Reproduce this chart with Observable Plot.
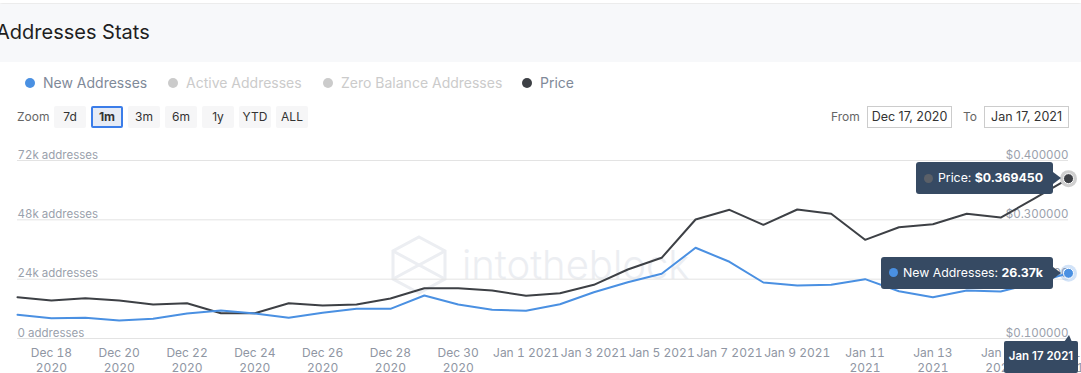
<!DOCTYPE html>
<html><head><meta charset="utf-8">
<script src="https://cdn.jsdelivr.net/npm/d3@7"></script>
<script src="https://cdn.jsdelivr.net/npm/@observablehq/plot@0.6"></script>
<style>
body{margin:0;width:1081px;height:373px;overflow:hidden;background:#fff;font-family:Inter,"Noto Sans",sans-serif;position:relative}
.abs{position:absolute}
#hdr{left:0;top:4px;width:1081px;height:58px;background:#f7f8fa}
#topbar{left:0;top:0;width:1081px;height:3px;background:#fff;box-shadow:0 1px 3px rgba(0,0,0,0.12)}
#title{left:-4px;top:20px;font-size:20px;color:#1f1f1f;white-space:nowrap}
.leg{top:74px;font-size:14px;white-space:nowrap;line-height:18px}
.leg .d{display:inline-block;width:10px;height:10px;border-radius:50%;margin-right:8px;vertical-align:-0px}
.btn{top:106px;height:22px;line-height:22px;width:32px;text-align:center;background:#f6f6f7;font-size:12px;color:#333;border-radius:2px;box-sizing:border-box}
.btn.sel{border:2px solid #3b7de9;background:#e6ebf5;font-weight:700;line-height:18px}
.lbl{top:108px;font-size:12px;color:#666;line-height:18px}
.inp{top:106px;height:22px;line-height:20px;border:1px solid #ccc;box-sizing:border-box;font-size:12.5px;color:#333;text-align:center;background:#fff}
#wm{left:462px;top:240px;font-size:40px;font-weight:300;color:#eceef2;letter-spacing:0px}
#chart{left:0;top:140px}
.tip{position:absolute;background:#364a63;color:#fff;font-size:12.3px;height:32px;line-height:32px;padding:0 10px 0 8px;border-radius:3px;white-space:nowrap;box-sizing:border-box}
.tip::after{content:"";position:absolute;right:-8px;top:10px;border-left:8px solid #364a63;border-top:6px solid transparent;border-bottom:6px solid transparent}
.tip .d{display:inline-block;width:9px;height:9px;border-radius:50%;margin-right:5px;vertical-align:-0.5px}
#dtip{position:absolute;background:#364a63;color:#fff;font-size:11.5px;font-weight:600;height:32px;line-height:30px;width:74px;text-align:center;border-radius:2px;white-space:nowrap}
#dtip::before{content:"";position:absolute;right:6px;top:-6px;border-bottom:7px solid #364a63;border-left:5px solid transparent;border-right:3px solid transparent}
</style></head><body>
<div id="topbar" class="abs"></div>
<div id="hdr" class="abs"></div>
<div id="title" class="abs">Addresses Stats</div>

<div class="abs leg" style="left:25px;color:#7f8a99"><span class="d" style="background:#4a90e2"></span>New Addresses</div>
<div class="abs leg" style="left:168px;color:#cbcbcb"><span class="d" style="background:#cbcbcb"></span>Active Addresses</div>
<div class="abs leg" style="left:323px;color:#cbcbcb"><span class="d" style="background:#cbcbcb"></span>Zero Balance Addresses</div>
<div class="abs leg" style="left:522px;color:#7f8a99"><span class="d" style="background:#3d4045"></span>Price</div>

<div class="abs lbl" style="left:17px">Zoom</div>
<div class="abs btn" style="left:54px">7d</div>
<div class="abs btn sel" style="left:91px">1m</div>
<div class="abs btn" style="left:128px">3m</div>
<div class="abs btn" style="left:165px">6m</div>
<div class="abs btn" style="left:202px">1y</div>
<div class="abs btn" style="left:239px">YTD</div>
<div class="abs btn" style="left:276px">ALL</div>

<div class="abs lbl" style="left:831px">From</div>
<div class="abs inp" style="left:867px;width:85px">Dec 17, 2020</div>
<div class="abs lbl" style="left:963px">To</div>
<div class="abs inp" style="left:984px;width:85px">Jan 17, 2021</div>

<svg class="abs" style="left:391px;top:235px" width="58" height="60">
  <g fill="none" stroke="#eceef2" stroke-width="3">
    <polygon points="28,2 54,16 54,44 28,58 2,44 2,16"/>
    <polyline points="2,16 28,30 54,16"/>
    <polyline points="2,44 28,30 54,44"/>
  </g>
</svg>
<div id="wm" class="abs">intotheblock</div>
<div id="chart" class="abs"></div>

<script>
const dates = ["2020-12-17","2020-12-18","2020-12-19","2020-12-20","2020-12-21","2020-12-22","2020-12-23","2020-12-24","2020-12-25","2020-12-26","2020-12-27","2020-12-28","2020-12-29","2020-12-30","2020-12-31","2021-01-01","2021-01-02","2021-01-03","2021-01-04","2021-01-05","2021-01-06","2021-01-07","2021-01-08","2021-01-09","2021-01-10","2021-01-11","2021-01-12","2021-01-13","2021-01-14","2021-01-15","2021-01-16","2021-01-17"];
const newAddresses = [9590,8210,8370,7280,7970,10110,11330,10110,8370,10400,12010,12010,17390,13750,11610,11200,13870,18730,22770,26170,36690,31030,22650,21440,21720,24000,19130,16710,19420,19010,22500,26370];
const price = [0.1696,0.1640,0.1679,0.1640,0.1573,0.1595,0.1426,0.1426,0.1595,0.1556,0.1573,0.1674,0.1848,0.1848,0.1809,0.1720,0.1763,0.1905,0.2163,0.2360,0.3006,0.3169,0.2916,0.3174,0.3102,0.2663,0.2876,0.2926,0.3102,0.3039,0.3360,0.369450];
const addressTicks = [0, 24000, 48000, 72000];
const priceTicks = [0.1, 0.2, 0.3, 0.4];
const xTickDates = ["2020-12-18","2020-12-20","2020-12-22","2020-12-24","2020-12-26","2020-12-28","2020-12-30","2021-01-01","2021-01-03","2021-01-05","2021-01-07","2021-01-09","2021-01-11","2021-01-13","2021-01-15","2021-01-17"];

const parse = d3.utcParse("%Y-%m-%d");
const P0 = priceTicks[0], P1 = priceTicks[priceTicks.length - 1], A1 = addressTicks[addressTicks.length - 1];
const toY = p => (p - P0) / (P1 - P0) * A1;
const fromY = v => P0 + v / A1 * (P1 - P0);
const data = dates.map((d, i) => ({date: parse(d), addr: newAddresses[i], price: price[i]}));
const last = data[data.length - 1];
const xTicks = xTickDates.map(parse);
const fmtX = d => {
  const m = d3.utcFormat("%b")(d), day = d.getUTCDate(), y = d.getUTCFullYear();
  return (m === "Jan" && day < 10) ? `${m} ${day} ${y}` : `${m} ${day}\n${y}`;
};
const BLUE = "#4a90e2", DARK = "#3d4045";

const chart = Plot.plot({
  width: 1081, height: 233,
  marginTop: 20, marginBottom: 35, marginLeft: 17, marginRight: 13,
  style: {background: "transparent", fontFamily: "Inter, sans-serif", overflow: "visible"},
  x: {type: "utc", domain: [data[0].date, last.date]},
  y: {domain: [0, A1]},
  marks: [
    Plot.gridY(addressTicks, {stroke: "#e3e3e3", strokeOpacity: 1}),
    Plot.axisY(addressTicks, {anchor: "left", tickSize: 0, tickPadding: 0, textAnchor: "start", lineAnchor: "bottom", dy: -2, fontSize: 11.5, fill: "#9aa1ac", label: null,
      tickFormat: v => v === 0 ? "0 addresses" : (v / 1000) + "k addresses"}),
    Plot.axisY(priceTicks.map(toY), {anchor: "right", tickSize: 0, tickPadding: 0, textAnchor: "end", lineAnchor: "bottom", dy: -2, fontSize: 11.5, fill: "#9aa1ac", label: null,
      tickFormat: v => "$" + fromY(v).toFixed(6)}),
    Plot.axisX(xTicks, {anchor: "bottom", tickSize: 0, tickPadding: 8, fontSize: 12, fill: "#8f96a3", lineHeight: 1.25, label: null, tickFormat: fmtX}),
    Plot.line(data, {x: "date", y: d => toY(d.price), stroke: DARK, strokeWidth: 2}),
    Plot.line(data, {x: "date", y: "addr", stroke: BLUE, strokeWidth: 2}),
    Plot.dot([last], {x: "date", y: d => toY(d.price), r: 8.5, fill: "#cfcfcf"}),
    Plot.dot([last], {x: "date", y: d => toY(d.price), r: 5, fill: DARK, stroke: "white", strokeWidth: 1}),
    Plot.dot([last], {x: "date", y: "addr", r: 8.5, fill: BLUE, fillOpacity: 0.25}),
    Plot.dot([last], {x: "date", y: "addr", r: 5, fill: BLUE, stroke: "white", strokeWidth: 1})
  ]
});
document.getElementById("chart").appendChild(chart);

const TOP = 140;
const sx = chart.scale("x"), sy = chart.scale("y");
const px = sx.apply(last.date);
const pyPrice = TOP + sy.apply(toY(last.price));
const pyAddr = TOP + sy.apply(last.addr);
const pyBase = TOP + sy.apply(0);

function tip(html, y) {
  const el = document.createElement("div");
  el.className = "tip";
  el.innerHTML = html;
  el.style.right = (1081 - (px - 15)) + "px";
  el.style.top = (y - 16) + "px";
  document.body.appendChild(el);
}
tip(`<span class="d" style="background:#5b6068"></span>Price: <b>$${last.price.toFixed(6)}</b>`, pyPrice);
tip(`<span class="d" style="background:${BLUE}"></span>New Addresses: <b>${d3.format(".2f")(last.addr / 1000)}k</b>`, pyAddr);

const dt = document.createElement("div");
dt.id = "dtip";
dt.textContent = d3.utcFormat("%b %-d %Y")(last.date);
dt.style.left = (px - 64) + "px";
dt.style.top = (pyBase + 3) + "px";
document.body.appendChild(dt);
</script>
</body></html>
